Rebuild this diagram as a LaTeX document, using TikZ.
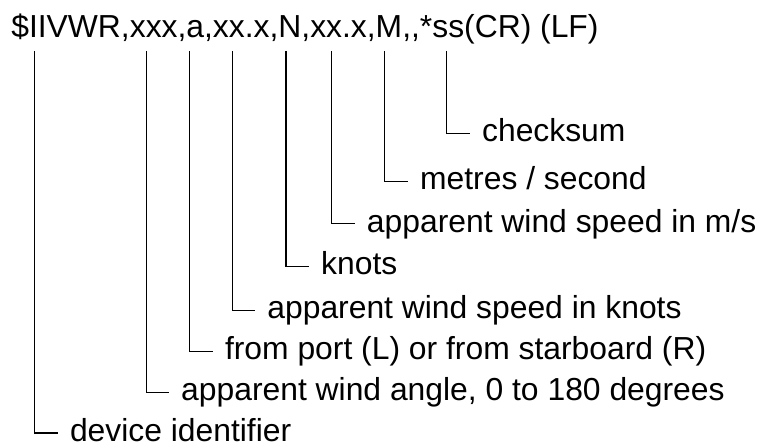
\documentclass[tikz,border=0pt]{standalone}
\usepackage{fontspec}
\setmainfont{Liberation Sans}
\usepackage{tikz}
\usetikzlibrary{positioning, calc}
\tikzset{
	headnode/.style={
			anchor=base west,
			inner sep=0pt,
			font=\fontsize{18.2pt}{22pt}\selectfont
		},
	labelnode/.style={
			anchor=west,
			inner ysep=0pt,
			inner xsep=0.24cm,
			text height=13pt,
			text depth=3.6pt,
			font=\fontsize{18.2pt}{22pt}\selectfont
		},
	leader/.style={
			draw=black,
			line width=0.6pt
		}
}

\begin{document}
\begin{tikzpicture}
\useasboundingbox (0,0) rectangle (15.43,-8.96);

\node[headnode] (head) at (0.22,-0.76) {\$IIVWR,xxx,a,xx.x,N,xx.x,M,{},*ss(CR) (LF)};

\coordinate (t1) at (0.70,-1.02);
\coordinate (t2) at (2.934,-1.02);
\coordinate (t3) at (3.814,-1.02);
\coordinate (t4) at (4.666,-1.02);
\coordinate (t5) at (5.746,-1.02);
\coordinate (t6) at (6.666,-1.02);
\coordinate (t7) at (7.734,-1.02);
\coordinate (t8) at (8.98,-1.02);

\node[labelnode] (l1) at (1.16,-8.70) {device identifier};
\node[labelnode] (l2) at (3.394,-7.88) {apparent wind angle, 0 to 180 degrees};
\node[labelnode] (l3) at (4.274,-7.06) {from port (L) or from starboard (R)};
\node[labelnode] (l4) at (5.126,-6.24) {apparent wind speed in knots};
\node[labelnode] (l5) at (6.206,-5.36) {knots};
\node[labelnode] (l6) at (7.126,-4.50) {apparent wind speed in m/s};
\node[labelnode] (l7) at (8.194,-3.64) {metres / second};
\node[labelnode] (l8) at (9.44,-2.68) {checksum};

\draw[leader] (t1) |- (l1.west);
\draw[leader] (t2) |- (l2.west);
\draw[leader] (t3) |- (l3.west);
\draw[leader] (t4) |- (l4.west);
\draw[leader] (t5) |- (l5.west);
\draw[leader] (t6) |- (l6.west);
\draw[leader] (t7) |- (l7.west);
\draw[leader] (t8) |- (l8.west);

\end{tikzpicture}
\end{document}
